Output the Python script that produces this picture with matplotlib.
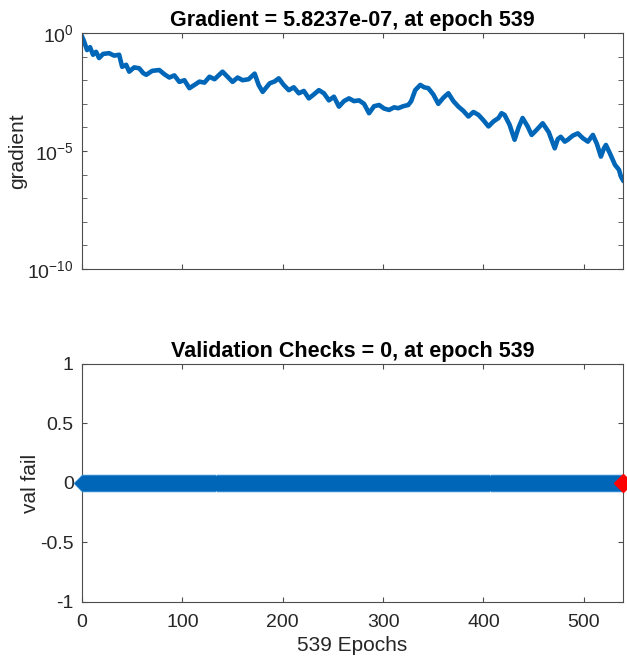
import numpy as np
from matplotlib import pyplot as plt
from matplotlib.ticker import FixedLocator, NullFormatter

plt.rcParams['font.family'] = ['Liberation Sans', 'DejaVu Sans']
plt.rcParams['path.simplify'] = False

# gradient (epoch, value)
grad_epoch = [0, 2, 5, 8, 11, 14, 17, 21, 27, 32, 37, 40, 44, 47, 52, 57, 61, 64, 70, 77,
              82, 87, 92, 97, 102, 107, 112, 117, 122, 127, 132, 140, 145, 150, 155, 160,
              166, 172, 176, 180, 187, 192, 196, 201, 206, 211, 216, 221, 226, 231, 236,
              241, 246, 251, 256, 261, 266, 271, 276, 281, 286, 291, 296, 301, 306, 311,
              315, 320, 325, 328, 332, 337, 341, 345, 350, 355, 360, 365, 370, 375, 380,
              385, 390, 395, 400, 405, 410, 415, 418, 421, 426, 431, 435, 439, 444, 448,
              453, 459, 465, 471, 474, 477, 481, 484, 489, 494, 499, 504, 509, 513, 517,
              520, 522, 526, 531, 535, 537, 539]
grad_val = [7.1e-1, 4.5e-1, 1.9e-1, 2.5e-1, 1.2e-1, 1.6e-1, 8.7e-2, 1.3e-1, 1.4e-1, 1.1e-1,
            1.2e-1, 3.7e-2, 4.5e-2, 2.3e-2, 3.5e-2, 3.2e-2, 2.0e-2, 1.7e-2, 2.5e-2, 2.7e-2,
            1.8e-2, 1.3e-2, 1.6e-2, 8.5e-3, 1.0e-2, 4.6e-3, 6.3e-3, 8.7e-3, 7.9e-3, 1.4e-2,
            1.1e-2, 2.3e-2, 1.4e-2, 8.5e-3, 1.3e-2, 1.0e-2, 1.1e-2, 1.9e-2, 6.3e-3, 3.2e-3,
            7.4e-3, 8.9e-3, 1.2e-2, 6.3e-3, 3.8e-3, 5.0e-3, 2.8e-3, 3.5e-3, 1.7e-3, 2.5e-3,
            3.8e-3, 2.8e-3, 1.4e-3, 2.0e-3, 7.6e-4, 1.3e-3, 1.7e-3, 1.3e-3, 1.4e-3, 1.0e-3,
            4.0e-4, 7.9e-4, 8.9e-4, 6.3e-4, 5.5e-4, 7.1e-4, 6.5e-4, 7.9e-4, 8.9e-4, 1.3e-3,
            3.8e-3, 6.3e-3, 5.0e-3, 4.6e-3, 2.5e-3, 1.0e-3, 1.8e-3, 2.8e-3, 1.3e-3, 7.6e-4,
            5.0e-4, 2.9e-4, 4.5e-4, 3.4e-4, 2.0e-4, 1.1e-4, 1.8e-4, 2.5e-4, 4.0e-4, 3.4e-4,
            1.3e-4, 3.0e-5, 1.0e-4, 2.5e-4, 1.1e-4, 4.8e-5, 7.9e-5, 1.5e-4, 6.3e-5, 1.3e-5,
            3.2e-5, 4.0e-5, 2.5e-5, 3.0e-5, 4.5e-5, 5.6e-5, 3.5e-5, 2.5e-5, 4.8e-5, 2.0e-5,
            5.8e-6, 1.3e-5, 1.8e-5, 7.9e-6, 2.6e-6, 1.6e-6, 8.1e-7, 5.8237e-07]

epochs = np.arange(540)
val_fail = np.zeros(540)

blue = '#0066b8'
grey = '#4d4d4d'
txt = '#262626'

fig = plt.figure(figsize=(6.27, 6.59), dpi=100)
ax1 = fig.add_axes([0.1308, 0.5918, 0.8628, 0.3581])
ax2 = fig.add_axes([0.1308, 0.0865, 0.8628, 0.3612])

for ax in (ax1, ax2):
    for s in ax.spines.values():
        s.set_color(grey)
        s.set_linewidth(0.8)
    ax.tick_params(which='both', direction='in', top=True, right=True, length=3.5,
                   color=grey, labelcolor=txt, labelsize=14)
    ax.tick_params(axis='y', pad=6)
    ax.tick_params(axis='x', pad=9)
    ax.set_xlim(0, 539)
    ax.set_xticks([0, 100, 200, 300, 400, 500])

# top plot
ax1.semilogy(grad_epoch, grad_val, color=blue, lw=3.3)
ax1.set_ylim(1e-10, 1e0)
ax1.yaxis.set_major_locator(FixedLocator([1e-10, 1e-5, 1e0]))
ax1.yaxis.set_minor_locator(FixedLocator([10.0**-k for k in range(1, 10) if k != 5]))
ax1.yaxis.set_minor_formatter(NullFormatter())
ax1.set_xticklabels([])
ax1.set_ylabel('gradient', fontsize=15, color=txt, labelpad=0)
ax1.set_title('Gradient = 5.8237e-07, at epoch 539', fontsize=15.5,
              fontweight='bold', pad=5)

# bottom plot
ax2.plot(epochs, val_fail, ls='none', marker='D', ms=9.2, mfc='#3c96d8', mec='none',
         clip_on=False, zorder=3)
ax2.plot(epochs, val_fail, color=blue, lw=2, marker='D', ms=8.4,
         mfc=blue, mec='none', clip_on=False, zorder=3)
ax2.plot([539], [0], marker='D', ms=9, color='#ff0000', clip_on=False, zorder=4)
ax2.set_ylim(-1, 1)
ax2.set_yticks([-1, -0.5, 0, 0.5, 1])
ax2.set_yticklabels(['-1', '-0.5', '0', '0.5', '1'])
ax2.set_ylabel('val fail', fontsize=15, color=txt, labelpad=0)
ax2.set_xlabel('539 Epochs', fontsize=15, color=txt, labelpad=3)
ax2.set_title('Validation Checks = 0, at epoch 539', fontsize=15.5,
              fontweight='bold', pad=5)

fig.savefig('out.png', dpi=100)
